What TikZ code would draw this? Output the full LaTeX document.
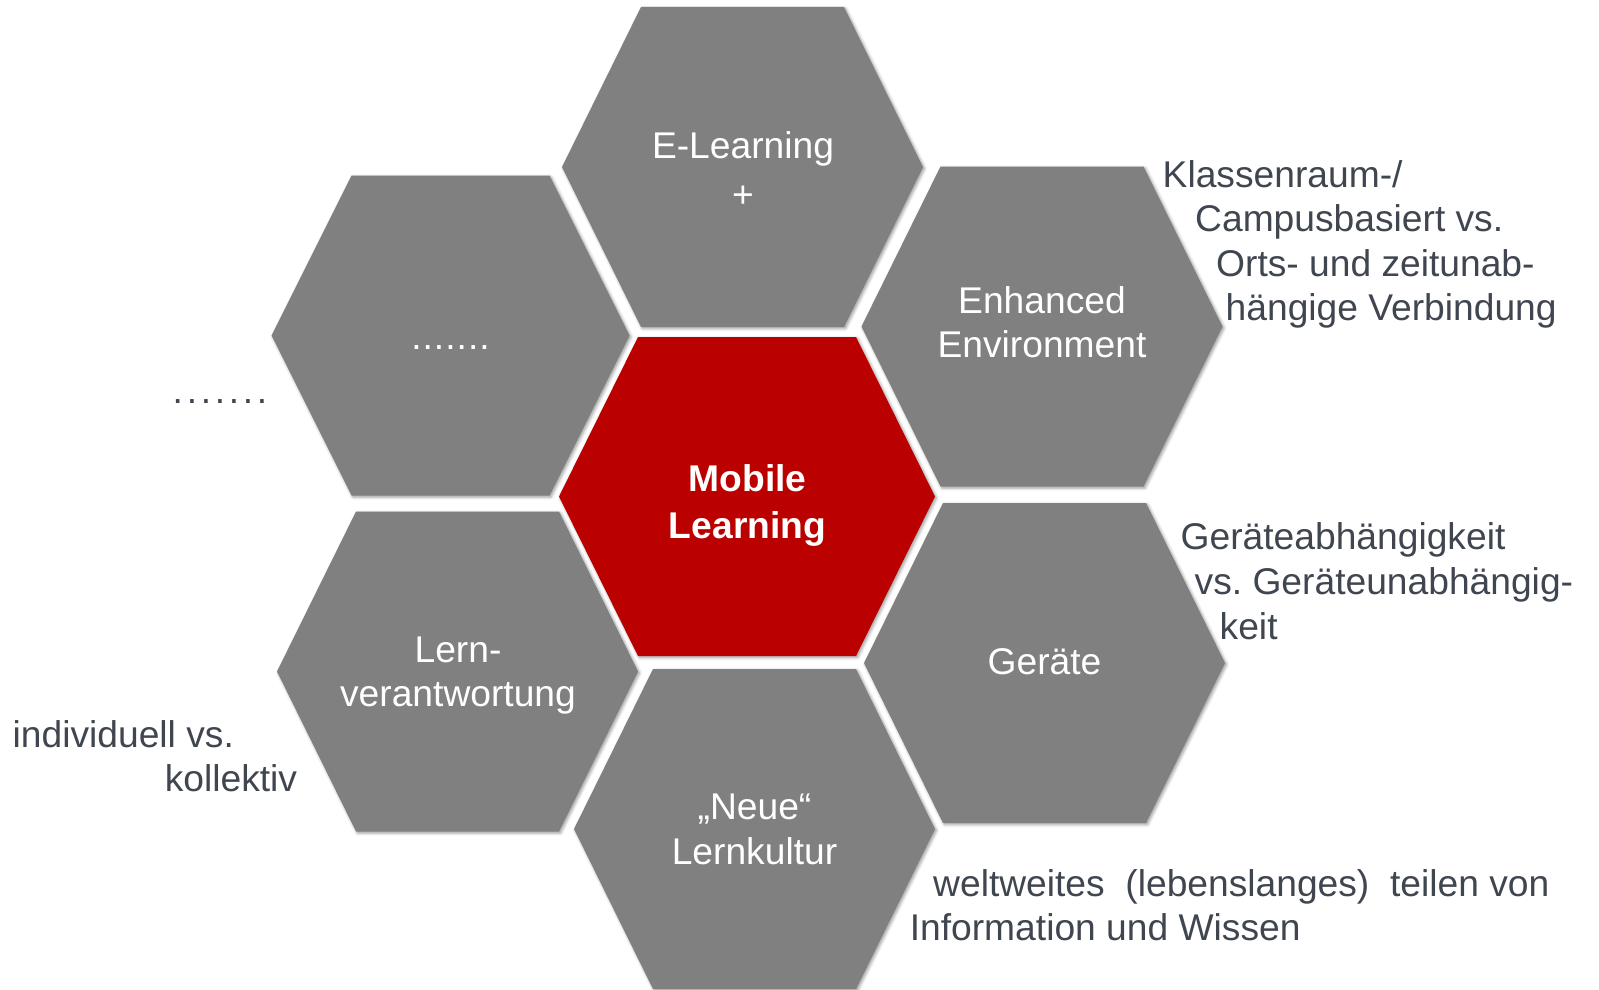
\documentclass[tikz,border=0pt]{standalone}
\usepackage{fontspec}
\setmainfont{Liberation Sans}
\usetikzlibrary{shadows.blur}
\frenchspacing
\definecolor{hexgray}{RGB}{128,128,128}
\definecolor{hexred}{RGB}{187,0,0}
\definecolor{notecol}{RGB}{64,70,80}
\newcommand\hexshape[6]{%
  \fill[#1,shift={(#2,#3)}] (-#4,0) -- (-#5,-#6) -- (#5,-#6) -- (#4,0) -- (#5,#6) -- (-#5,#6) -- cycle;}
\newcommand\dotrow[2]{\foreach \i in {2,...,#1}{.\kern#2}.}
\tikzset{
  hexshadow/.style={blur shadow={shadow xshift=1.5pt,shadow yshift=-1.5pt,shadow blur radius=3pt,shadow opacity=40}},
  hexg/.style={fill=hexgray,hexshadow},
  hexr/.style={fill=hexred,hexshadow},
  hextext/.style={text=white,align=center,inner sep=0pt,font=\fontsize{37.2}{44}\selectfont},
  hexbold/.style={hextext,font=\fontsize{37.2}{44}\selectfont\bfseries},
  note/.style={text=notecol,inner sep=0pt,anchor=base west,font=\fontsize{37.2}{44}\selectfont},
}
\begin{document}
\begin{tikzpicture}[x=1pt,y=-1pt]
\useasboundingbox (0,0) rectangle (1599,990);
% hexagons
\hexshape{hexg}{742.5}{167}{180.5}{101.5}{160}
\hexshape{hexg}{450.5}{335.5}{179}{99}{160}
\hexshape{hexg}{1042}{326.5}{180.5}{101.5}{160}
\hexshape{hexg}{1044.5}{663}{180.5}{101.5}{160}
\hexshape{hexg}{457.5}{671.5}{180.5}{101.5}{160}
\hexshape{hexg}{754.5}{829}{180.5}{101.5}{160}
\hexshape{hexr}{747}{496.5}{188}{109}{159.5}
% hexagon texts
\node[hextext] (elearn) at (743,169.4) {E-Learning\\[5pt]+};
\node[hextext] (dotshex) at (450.5,348) {\dotrow{7}{1pt}};
\node[hextext] (enh) at (1042,321.8) {Enhanced\\Environment};
\node[hextext] (geraete) at (1044.5,661.7) {Geräte};
\node[hextext] (lern) at (458,675.4) {Lern-\\verantwortung};
\node[hextext] (neue) at (754.5,829.3) {„Neue“\\[1pt]Lernkultur};
\node[hexbold] (mobile) at (747.5,505.7) {Mobile\\[2.6pt]Learning};
% annotations
\node[note] (k1) at (1162.5,187) {Klassenraum-/};
\node[note] (k2) at (1195,231) {Campusbasiert vs.};
\node[note] (k3) at (1216,276) {Orts- und zeitunab-};
\node[note] (k4) at (1225.5,320) {hängige Verbindung};
\node[note] (g1) at (1180.5,549) {Geräteabhängigkeit};
\node[note] (g2) at (1194.5,594) {vs. Geräteunabhängig-};
\node[note] (g3) at (1219.5,639) {keit};
\node[note] (w1) at (933,896) {weltweites\ \ (lebenslanges)\ \ teilen von};
\node[note] (w2) at (909.6,940) {Information und Wissen};
\node[note] (i1) at (12.5,747) {individuell vs.};
\node[note] (i2) at (164.6,791) {kollektiv};
\node[text=notecol,inner sep=0pt,font=\fontsize{37.2}{44}\selectfont] (dotsout) at (220,401.7) {\dotrow{7}{3.7pt}};
\end{tikzpicture}
\end{document}
